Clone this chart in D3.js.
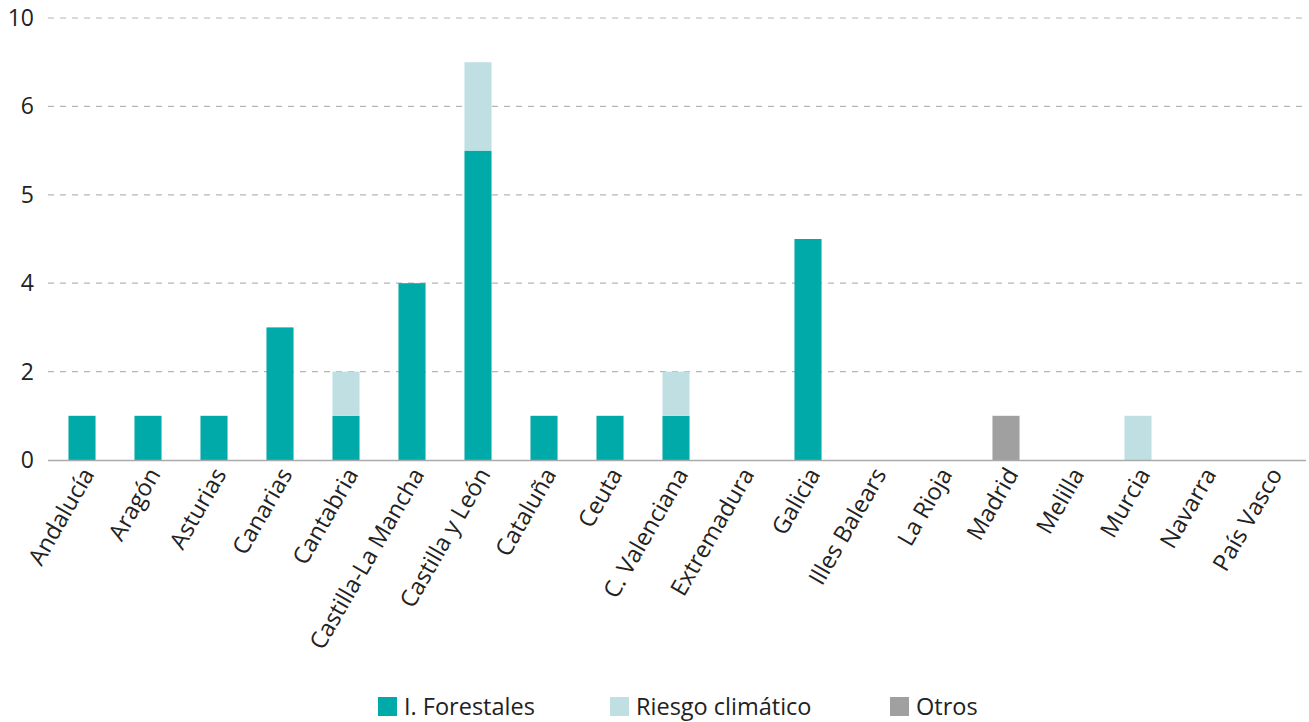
<!DOCTYPE html>
<html><head><meta charset="utf-8">
<script src="https://cdn.jsdelivr.net/npm/d3@7"></script>
<style>
body{margin:0;background:#fff;}
text{font-family:"Open Sans",sans-serif;}
</style></head>
<body><svg id="c" width="1309" height="722"></svg>
<script>
const categories = ["Andalucía","Aragón","Asturias","Canarias","Cantabria","Castilla-La Mancha","Castilla y León","Cataluña","Ceuta","C. Valenciana","Extremadura","Galicia","Illes Balears","La Rioja","Madrid","Melilla","Murcia","Navarra","País Vasco"];
const forestales = [1,1,1,3,1,4,7,1,1,1,0,5,0,0,0,0,0,0,0];
const riesgo     = [0,0,0,0,1,0,2,0,0,1,0,0,0,0,0,0,1,0,0];
const otros      = [0,0,0,0,0,0,0,0,0,0,0,0,0,0,1,0,0,0,0];
const tickValues = [0,2,4,6,8,10];
const tickLabels = ["0","2","4","5","6","10"];
const seriesNames = ["I. Forestales","Riesgo climático","Otros"];
const colors = ["#00aaa8","#c0dfe3","#a0a0a0"];

const svg = d3.select("#c");
const x = d3.scaleBand().domain(categories).range([49,1303]).paddingInner(0.59).paddingOuter(0.295);
const y = d3.scaleLinear().domain([0,10]).range([460,18]);

// grid
svg.append("g").selectAll("line").data(tickValues.filter(v=>v>0)).join("line")
  .attr("x1",48).attr("x2",1302).attr("y1",d=>y(d)).attr("y2",d=>y(d))
  .attr("stroke","#b5b5b5").attr("stroke-width",1.2).attr("stroke-dasharray","6,6");

// y labels
svg.append("g").selectAll("text").data(tickValues).join("text")
  .attr("x",34).attr("y",d=>y(d)).attr("dy","0.35em").attr("text-anchor","end")
  .attr("font-size",23).attr("fill","#222").text((d,i)=>tickLabels[i]);

const data = categories.map((c,i)=>({cat:c, f:forestales[i], r:riesgo[i], o:otros[i]}));
const stack = d3.stack().keys(["f","r","o"])(data);
svg.append("g").selectAll("g").data(stack).join("g").attr("fill",(d,i)=>colors[i])
  .selectAll("rect").data(d=>d).join("rect")
  .attr("x",d=>x(d.data.cat)).attr("width",x.bandwidth())
  .attr("y",d=>y(d[1])).attr("height",d=>y(d[0])-y(d[1]));

// baseline
svg.append("line").attr("x1",48).attr("x2",1306).attr("y1",460.5).attr("y2",460.5)
  .attr("stroke","#aaa").attr("stroke-width",1.5);

// x labels
svg.append("g").selectAll("text").data(categories).join("text")
  .attr("transform",d=>`translate(${x(d)+x.bandwidth()/2+6},470) rotate(-60)`)
  .attr("text-anchor","end").attr("dy","0.35em")
  .attr("font-size",23.5).attr("fill","#222").text(d=>d);

// legend
const lx = [378,610,890];
const lg = svg.append("g").selectAll("g").data(seriesNames).join("g")
  .attr("transform",(d,i)=>`translate(${lx[i]},697)`);
lg.append("rect").attr("width",19).attr("height",19).attr("fill",(d,i)=>colors[i]);
lg.append("text").attr("x",26).attr("y",18).attr("font-size",23.5).attr("fill","#222").text(d=>d);
</script></body></html>
